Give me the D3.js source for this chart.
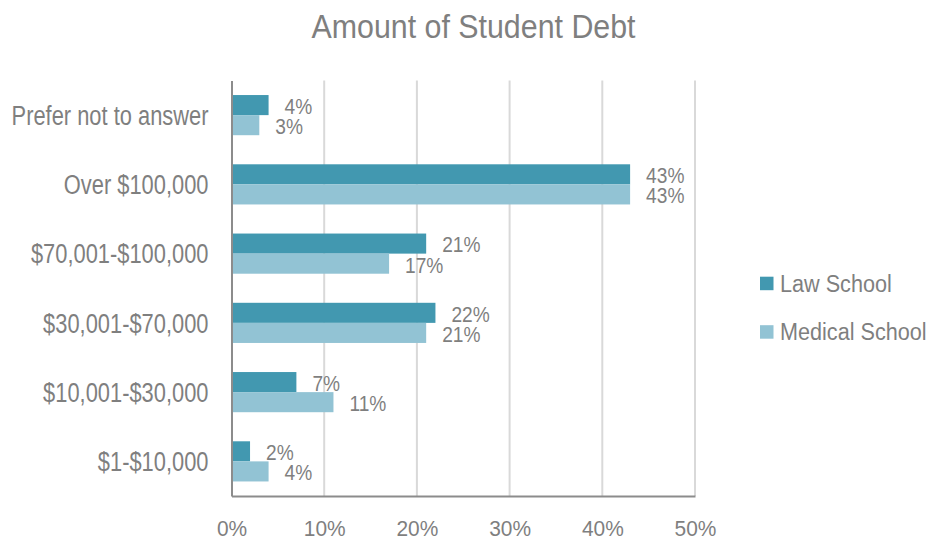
<!DOCTYPE html>
<html><head><meta charset="utf-8">
<script src="https://cdn.jsdelivr.net/npm/d3@7"></script>
<style>
body{margin:0;background:#fff;}
text{font-family:"Liberation Sans Narrow","Arial Narrow","Liberation Sans",Arial,sans-serif;fill:#7f7f7f;}
</style></head>
<body><svg id="chart" width="930" height="540"></svg>
<script>
const categories = ["Prefer not to answer","Over $100,000","$70,001-$100,000","$30,001-$70,000","$10,001-$30,000","$1-$10,000"];
const seriesNames = ["Law School","Medical School"];
const lawValues = [4,43,21,22,7,2];
const medicalValues = [3,43,17,21,11,4];
const xTicks = [0,10,20,30,40,50];
const colors = ["#4298b0","#92c3d4"];

// condense text horizontally (reference uses a narrow typeface)
function condense(sel, factor){
  sel.each(function(){
    const len = this.getComputedTextLength();
    d3.select(this).attr("textLength", len*factor).attr("lengthAdjust","spacingAndGlyphs");
  });
}

const svg = d3.select("#chart");
const m = {left:231.5, right:695, top:80.5, bottom:496};
const x = d3.scaleLinear().domain([0,50]).range([m.left,m.right]);
const y = d3.scaleBand().domain(categories).range([m.top,m.bottom]).paddingInner(0.42).paddingOuter(0.21);
const ySub = d3.scaleBand().domain(seriesNames).range([0,y.bandwidth()]);

const title = svg.append("text").attr("x",473.5).attr("y",38.3).attr("text-anchor","middle")
  .style("font-size","33px").text("Amount of Student Debt");
condense(title, 0.92);

// gridlines
svg.append("g").selectAll("line").data(xTicks.slice(1)).join("line")
  .attr("x1",d=>x(d)).attr("x2",d=>x(d)).attr("y1",m.top).attr("y2",m.bottom)
  .attr("stroke","#d9d9d9").attr("stroke-width",2);

const data = categories.map((c,i)=>({cat:c, vals:[lawValues[i],medicalValues[i]]}));
const g = svg.append("g").selectAll("g").data(data).join("g")
  .attr("transform",d=>`translate(0,${y(d.cat)})`);
g.selectAll("rect").data(d=>d.vals.map((v,i)=>({v,s:seriesNames[i],i}))).join("rect")
  .attr("x",x(0)).attr("y",d=>ySub(d.s)).attr("width",d=>x(d.v)-x(0)).attr("height",ySub.bandwidth())
  .attr("fill",d=>colors[d.i]);
const vl = g.selectAll("text").data(d=>d.vals.map((v,i)=>({v,s:seriesNames[i],i}))).join("text")
  .attr("x",d=>x(d.v)+16).attr("y",d=>ySub(d.s)+ySub.bandwidth()/2+1+0.358*22)
  .style("font-size","22px").text(d=>d.v+"%");
condense(vl, 0.87);

// y axis
const yAxis = svg.append("g").attr("transform",`translate(${m.left},0)`)
  .call(d3.axisLeft(y).tickSize(0).tickPadding(23));
yAxis.select(".domain").attr("stroke","#8c8c8c").attr("stroke-width",2);
const yt = yAxis.selectAll("text").style("font-size","27px").attr("fill","#7f7f7f").attr("font-family",null)
  .attr("dy",null).attr("y",0.358*27);
condense(yt, 0.81);

// x axis
const xAxis = svg.append("g").attr("transform",`translate(0,${m.bottom})`)
  .call(d3.axisBottom(x).tickValues(xTicks).tickFormat(d=>d+"%").tickSize(0).tickPadding(24));
xAxis.select(".domain").attr("stroke","#8c8c8c").attr("stroke-width",2);
const xt = xAxis.selectAll("text").style("font-size","22px").attr("fill","#7f7f7f").attr("font-family",null);
condense(xt, 0.95);

// legend
const leg = svg.append("g").selectAll("g").data(seriesNames).join("g")
  .attr("transform",(d,i)=>`translate(760,${276.7+i*48.5})`);
leg.append("rect").attr("width",13.5).attr("height",13.5).attr("fill",(d,i)=>colors[i]);
const lt = leg.append("text").attr("x",20).attr("y",6.7+0.358*23)
  .style("font-size","23px").text(d=>d);
condense(lt, 0.94);
</script></body></html>
